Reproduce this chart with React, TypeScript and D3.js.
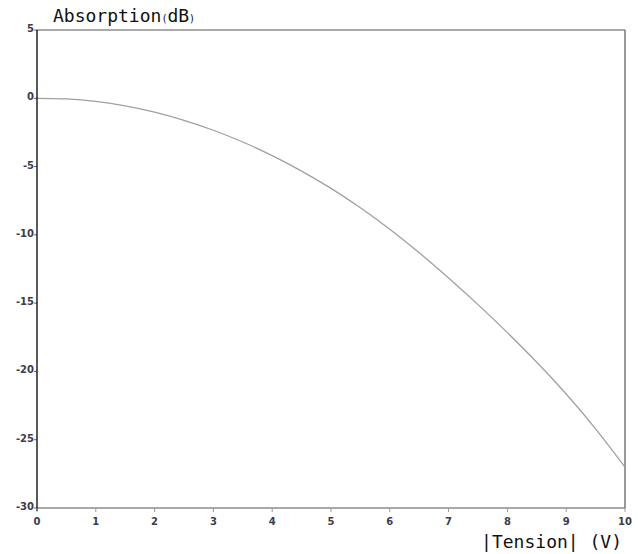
import React from "react";
import * as d3 from "d3";

// Absorption (dB) versus |Tension| (V)
const tension: number[] = [0, 0.5, 1, 1.5, 2, 2.5, 3, 3.5, 4, 4.5, 5, 5.5, 6, 6.5, 7, 7.5, 8, 8.5, 9, 9.5, 10];
const absorption: number[] = [0, -0.05, -0.23, -0.55, -1.01, -1.61, -2.34, -3.2, -4.2, -5.33, -6.6, -8.02, -9.59, -11.31, -13.16, -15.11, -17.16, -19.33, -21.65, -24.2, -27.0];
const xTicks: number[] = [0, 1, 2, 3, 4, 5, 6, 7, 8, 9, 10];
const yTicks: number[] = [5, 0, -5, -10, -15, -20, -25, -30];

const W = 638;
const H = 554;
const M = { left: 37, right: 625, top: 30, bottom: 508 };

export default function App() {
  const x = d3.scaleLinear().domain([0, 10]).range([M.left, M.right]);
  const y = d3.scaleLinear().domain([-30, 5]).range([M.bottom, M.top]);
  const pts: [number, number][] = tension.map((t, i) => [t, absorption[i]]);
  const line = d3
    .line<[number, number]>()
    .x((d) => x(d[0]))
    .y((d) => y(d[1]))
    .curve(d3.curveNatural);

  const tickFont = { fontFamily: "DejaVu Sans, Verdana, sans-serif", fontSize: 10, fontWeight: 700, fill: "#3c3c4c" };
  const mono = "DejaVu Sans Mono, monospace";

  return (
    <svg width={W} height={H} style={{ position: "absolute", left: 0, top: 0, background: "#fff" }}>
      {/* frame */}
      <line x1={M.left} x2={M.right} y1={M.top} y2={M.top} stroke="#555" strokeWidth={1.2} />
      <line x1={M.right} x2={M.right} y1={M.top} y2={M.bottom} stroke="#777" strokeWidth={1.5} />
      <line x1={M.left} x2={M.right} y1={M.bottom} y2={M.bottom} stroke="#555" strokeWidth={1.2} />

      {/* curve */}
      <path d={line(pts) || ""} fill="none" stroke="#a0a0a0" strokeWidth={1.3} />

      {/* y axis */}
      {yTicks.map((t) => (
        <g key={"y" + t}>
          <line x1={M.left - 3} x2={M.left} y1={y(t)} y2={y(t)} stroke="#666" strokeWidth={1} />
          <text x={M.left - 3} y={y(t) + 2} textAnchor="end" {...tickFont}>
            {t}
          </text>
        </g>
      ))}
      <line x1={M.left} x2={M.left} y1={M.top} y2={M.bottom + 3} stroke="#000" strokeWidth={1.3} />

      {/* x axis */}
      {xTicks.map((t) => (
        <g key={"x" + t}>
          <line x1={x(t)} x2={x(t)} y1={M.bottom} y2={M.bottom + 4} stroke="#999" strokeWidth={1} />
          <text x={x(t)} y={525} textAnchor="middle" {...tickFont}>
            {t}
          </text>
        </g>
      ))}

      {/* titles */}
      <text x={53} y={22} fontFamily={mono} fontSize={18} fill="#111">
        Absorption
        <tspan fontSize={10}>(</tspan>
        <tspan>dB</tspan>
        <tspan fontSize={10}>)</tspan>
      </text>
      <text x={622} y={548} textAnchor="end" fontFamily={mono} fontSize={18} fill="#111">
        |Tension| (V)
      </text>
    </svg>
  );
}
